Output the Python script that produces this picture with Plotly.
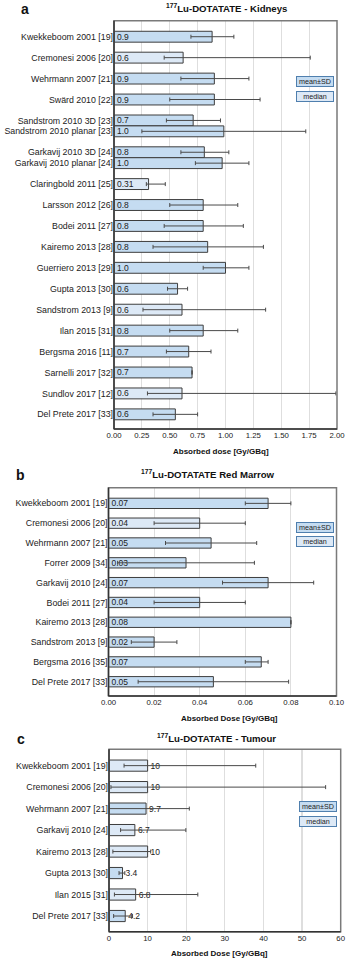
import plotly.graph_objects as go

W, H = 349, 960

# ---------------- data: (a) Kidneys ----------------
kid_labels = ["Kwekkeboom 2001 [19]", "Cremonesi 2006 [20]", "Wehrmann 2007 [21]", "Swärd 2010 [22]",
              "Sandstrom 2010 3D [23]", "Sandstrom 2010 planar [23]", "Garkavij 2010 3D [24]",
              "Garkavij 2010 planar [24]", "Claringbold 2011 [25]", "Larsson 2012 [26]", "Bodei 2011 [27]",
              "Kairemo 2013 [28]", "Guerriero 2013 [29]", "Gupta 2013 [30]", "Sandstrom 2013 [9]",
              "Ilan 2015 [31]", "Bergsma 2016 [11]", "Sarnelli 2017 [32]", "Sundlov 2017 [12]",
              "Del Prete 2017 [33]"]
kid_group = [0, 1, 2, 3, 4, 4, 5, 5, 6, 7, 8, 9, 10, 11, 12, 13, 14, 15, 16, 17]
kid_values = [0.88, 0.62, 0.90, 0.90, 0.71, 0.985, 0.81, 0.97, 0.31, 0.80, 0.80, 0.84, 1.00,
              0.57, 0.61, 0.80, 0.67, 0.70, 0.61, 0.55]
kid_low = [0.69, 0.45, 0.60, 0.50, 0.47, 0.25, 0.60, 0.73, 0.29, 0.50, 0.45, 0.35, 0.80,
           0.48, 0.26, 0.50, 0.47, None, 0.30, 0.35]
kid_high = [1.075, 1.76, 1.21, 1.31, 0.955, 1.72, 1.03, 1.21, 0.46, 1.11, 1.16, 1.34, 1.21,
            0.66, 1.36, 1.11, 0.87, None, 1.99, 0.75]
kid_text = ["0.9", "0.6", "0.9", "0.9", "0.7", "1.0", "0.8", "1.0", "0.31", "0.8", "0.8", "0.8",
            "1.0", "0.6", "0.6", "0.8", "0.7", "0.7", "0.6", "0.6"]
kid_stat = ["mean", "median", "mean", "mean", "mean", "mean", "mean", "mean", "median", "mean",
            "mean", "mean", "mean", "mean", "median", "mean", "mean", "mean", "median", "mean"]
kid_ticks = [0, 0.25, 0.5, 0.75, 1.0, 1.25, 1.5, 1.75, 2.0]

# ---------------- data: (b) Red marrow ----------------
rm_labels = ["Kwekkeboom 2001 [19]", "Cremonesi 2006 [20]", "Wehrmann 2007 [21]", "Forrer 2009 [34]",
             "Garkavij 2010 [24]", "Bodei 2011 [27]", "Kairemo 2013 [28]", "Sandstrom 2013 [9]",
             "Bergsma 2016 [35]", "Del Prete 2017 [33]"]
rm_group = list(range(10))
rm_values = [0.070, 0.040, 0.045, 0.034, 0.070, 0.040, 0.080, 0.020, 0.067, 0.046]
rm_low = [0.060, 0.020, 0.025, 0.004, 0.050, 0.020, None, 0.010, 0.060, 0.013]
rm_high = [0.080, 0.060, 0.065, 0.064, 0.090, 0.060, None, 0.030, 0.070, 0.079]
rm_text = ["0.07", "0.04", "0.05", "0.03", "0.07", "0.04", "0.08", "0.02", "0.07", "0.05"]
rm_stat = ["mean", "median", "mean", "mean", "mean", "mean", "mean", "mean", "mean", "mean"]
rm_ticks = [0, 0.02, 0.04, 0.06, 0.08, 0.10]

# ---------------- data: (c) Tumour ----------------
tu_labels = ["Kwekkeboom 2001 [19]", "Cremonesi 2006 [20]", "Wehrmann 2007 [21]", "Garkavij 2010 [24]",
             "Kairemo 2013 [28]", "Gupta 2013 [30]", "Ilan 2015 [31]", "Del Prete 2017 [33]"]
tu_group = list(range(8))
tu_values = [10.0, 10.0, 9.6, 6.7, 10.0, 3.5, 6.9, 4.2]
tu_low = [3.9, 0.5, 0.0, 3.0, 1.0, 2.6, 1.4, 1.2]
tu_high = [38.0, 56.1, 20.8, 19.9, 10.8, 4.1, 23.0, 6.1]
tu_text = ["10", "10", "9.7", "6.7", "10", "3.4", "6.8", "4.2"]
tu_stat = ["median", "median", "mean", "median", "median", "mean", "median", "mean"]
tu_ticks = [0, 10, 20, 30, 40, 50, 60]

# ---------------- styling ----------------
FONT = "Liberation Sans, Arial, Helvetica, sans-serif"
FILL = "#c5dcf1"
MED_FILL = "#dde9f6"
EDGE = "#3d3d3d"
BW = 0.52
GAP = 0.48


def positions(groups):
    """Bar centres: grouped bars (same id) sit next to each other."""
    pos, edge, i, n = [], -0.5, 0, len(groups)
    while i < n:
        j = i
        while j < n and groups[j] == groups[i]:
            j += 1
        k = j - i
        start = edge + GAP / 2
        for m in range(k):
            pos.append(start + BW * (m + 0.5))
        edge += k * BW + GAP
        i = j
    return pos


def px_x(p):
    return p / W


def px_y(p):
    return 1 - p / H


panels = [
    dict(labels=kid_labels, group=kid_group, values=kid_values, low=kid_low, high=kid_high,
         text=kid_text, stat=kid_stat, ticks=kid_ticks, fmt=".2f", rng=[0, 2.0],
         xdom=[114, 337], ydom=[20.7, 429], pad=(0.765, 0.70), tpos="inside",
         title="<b><sup>177</sup>Lu-DOTATATE - Kidneys</b>", title_xy=(226, 8),
         letter="a", letter_xy=(24.5, 8.5), axtitle="<b>Absorbed dose [Gy/GBq]</b>", axt_xy=(220.7, 451.7),
         leg_x=315.2, leg_y=(81.5, 96.5)),
    dict(labels=rm_labels, group=rm_group, values=rm_values, low=rm_low, high=rm_high,
         text=rm_text, stat=rm_stat, ticks=rm_ticks, fmt=".2f", rng=[0, 0.10],
         xdom=[108.5, 336.5], ydom=[487.7, 696], pad=(0.79, 0.72), tpos="inside",
         title="<b><sup>177</sup>Lu-DOTATATE Red Marrow</b>", title_xy=(208, 474),
         letter="b", letter_xy=(20.7, 474.7), axtitle="<b>Absorbed Dose [Gy/GBq]</b>", axt_xy=(229, 718),
         leg_x=315, leg_y=(527.3, 541.5)),
    dict(labels=tu_labels, group=tu_group, values=tu_values, low=tu_low, high=tu_high,
         text=tu_text, stat=tu_stat, ticks=tu_ticks, fmt="d", rng=[0, 60],
         xdom=[109, 340.7], ydom=[749.3, 931.7], pad=(0.76, 0.73), tpos="outside",
         title="<b><sup>177</sup>Lu-DOTATATE - Tumour</b>", title_xy=(216.3, 738),
         letter="c", letter_xy=(20.7, 739.3), axtitle="<b>Absorbed Dose [Gy/GBq]</b>", axt_xy=(219, 953.3),
         leg_x=317.5, leg_y=(806.3, 821)),
]

fig = go.Figure()
layout = dict(width=W, height=H, margin=dict(l=0, r=0, t=0, b=0, autoexpand=False),
              paper_bgcolor="white", plot_bgcolor="white", showlegend=False,
              font=dict(family=FONT, color="#222"))
shapes, annotations = [], []

for idx, p in enumerate(panels, start=1):
    sfx = "" if idx == 1 else str(idx)
    xa, ya = "x" + sfx, "y" + sfx
    pos = positions(p["group"])
    plus = [None if h is None else h - v for v, h in zip(p["values"], p["high"])]
    minus = [None if lo is None else v - lo for v, lo in zip(p["values"], p["low"])]
    median = [s == "median" for s in p["stat"]]
    fig.add_trace(go.Bar(
        x=p["values"], y=pos, orientation="h", width=BW, xaxis=xa, yaxis=ya,
        marker=dict(color=[MED_FILL if m else FILL for m in median],
                    line=dict(color=EDGE, width=1)),
        error_x=dict(type="data", symmetric=False, array=plus, arrayminus=minus,
                     color="#4a4a4a", thickness=1, width=2),
        text=p["text"], textposition=p["tpos"], insidetextanchor="start", constraintext="none",
        textfont=dict(size=8.5, color="#222", family=FONT),
        cliponaxis=False, hoverinfo="skip"))

    ticktext = [format(t, p["fmt"]) if p["fmt"] != "d" else str(int(t)) for t in p["ticks"]]
    layout["xaxis" + sfx] = dict(domain=[px_x(p["xdom"][0]), px_x(p["xdom"][1])], range=p["rng"],
                                 anchor=ya, tickvals=p["ticks"], ticktext=ticktext, automargin=False,
                                 showgrid=True, gridcolor="#dedede", gridwidth=1.2,
                                 zeroline=False, showline=False, ticks="",
                                 tickfont=dict(size=7.8, color="#222"))
    layout["yaxis" + sfx] = dict(domain=[px_y(p["ydom"][1]), px_y(p["ydom"][0])],
                                 range=[pos[-1] + p["pad"][1], -p["pad"][0]], anchor=xa,
                                 tickvals=pos, ticktext=p["labels"], showgrid=False, automargin=False,
                                 zeroline=False, showline=False, ticks="",
                                 tickfont=dict(size=8.8, color="#222"))
    # frame
    shapes.append(dict(type="rect", xref=xa + " domain", yref=ya + " domain", x0=0, x1=1, y0=0, y1=1,
                       line=dict(color="#7a7a7a", width=1.5), layer="above"))
    shapes.append(dict(type="line", xref=xa + " domain", yref=ya + " domain", x0=0, x1=0, y0=0, y1=1,
                       line=dict(color="#333", width=1.5), layer="above"))
    shapes.append(dict(type="line", xref=xa + " domain", yref=ya + " domain", x0=0, x1=1, y0=0, y1=0,
                       line=dict(color="#333", width=1.5), layer="above"))
    # texts
    annotations.append(dict(text=p["title"], x=px_x(p["title_xy"][0]), y=px_y(p["title_xy"][1]),
                            xref="paper", yref="paper", showarrow=False, xanchor="center",
                            yanchor="middle", font=dict(size=9.6, color="#111")))
    annotations.append(dict(text="<b>" + p["letter"] + "</b>", x=px_x(p["letter_xy"][0]),
                            y=px_y(p["letter_xy"][1]), xref="paper", yref="paper", showarrow=False,
                            xanchor="center", yanchor="middle", font=dict(size=14, color="#111")))
    annotations.append(dict(text=p["axtitle"], x=px_x(p["axt_xy"][0]), y=px_y(p["axt_xy"][1]),
                            xref="paper", yref="paper", showarrow=False, xanchor="center",
                            yanchor="middle", font=dict(size=8, color="#111")))
    # legend boxes
    for txt, yy, bg in (("mean±SD", p["leg_y"][0], FILL), ("median", p["leg_y"][1], MED_FILL)):
        annotations.append(dict(text=txt, x=px_x(p["leg_x"]), y=px_y(yy), xref="paper", yref="paper",
                                showarrow=False, xanchor="center", yanchor="middle", width=36,
                                bgcolor=bg, bordercolor="#4f7fae", borderwidth=1, borderpad=0,
                                font=dict(size=7.2, color="#222")))

layout["shapes"] = shapes
layout["annotations"] = annotations
fig.update_layout(**layout)
fig.write_html("out.html", config={"displayModeBar": False, "staticPlot": True},
               post_script="document.body.style.margin='0';document.body.style.padding='0';")
